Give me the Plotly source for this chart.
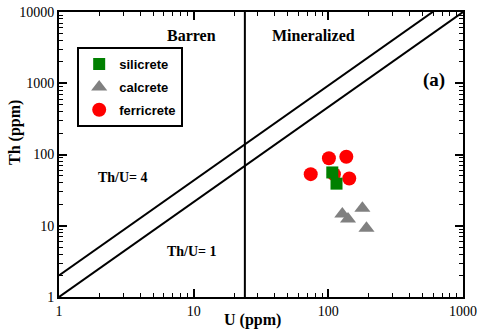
import plotly.graph_objects as go

# Data
sil_u = [107, 115]
sil_th = [56, 39]
cal_u = [127, 140, 179, 192]
cal_th = [14.6, 12.4, 17.6, 9.2]
fer_u = [101, 136, 74, 110, 143]
fer_th = [88.5, 93, 53, 53, 46]

line_u = [1, 1000]
lower_th = [1, 10000]
upper_th = [2, 20000]
boundary_u = [24, 24]
boundary_th = [1, 10000]

x_ticks = [1, 10, 100, 1000]
y_ticks = [1, 10, 100, 1000, 10000]
x_minor = [m * 10 ** d for d in range(3) for m in range(2, 10)]
y_minor = [m * 10 ** d for d in range(4) for m in range(2, 10)]

serif = "Liberation Serif, Times New Roman, serif"
sans = "Liberation Sans, Arial, sans-serif"

fig = go.Figure()
fig.add_trace(go.Scatter(x=line_u, y=upper_th, mode="lines", line=dict(color="black", width=2), showlegend=False, hoverinfo="skip"))
fig.add_trace(go.Scatter(x=line_u, y=lower_th, mode="lines", line=dict(color="black", width=2), showlegend=False, hoverinfo="skip"))
fig.add_trace(go.Scatter(x=boundary_u, y=boundary_th, mode="lines", line=dict(color="black", width=2), showlegend=False, hoverinfo="skip"))

fig.add_trace(go.Scatter(x=fer_u, y=fer_th, mode="markers", name="<b>ferricrete</b>", legendgroup="c",
                         marker=dict(symbol="circle", size=14, color="#ff0000"), legendrank=3))
fig.add_trace(go.Scatter(x=sil_u, y=sil_th, mode="markers", name="<b>silicrete</b>", legendgroup="a",
                         marker=dict(symbol="square", size=12, color="#008000"), legendrank=1))
fig.add_trace(go.Scatter(x=cal_u, y=cal_th, mode="markers", name="<b>calcrete</b>", legendgroup="b",
                         marker=dict(symbol="triangle-up", size=14, color="#808080"), legendrank=2))

axis_common = dict(
    type="log", showgrid=False, zeroline=False, automargin=False,
    showline=True, linecolor="black", linewidth=2, mirror="ticks",
    ticks="inside", ticklen=8, tickwidth=1.5, tickcolor="black",
    tickfont=dict(family=serif, size=14, color="black"),
    tickprefix="<b>", ticksuffix="</b>",
)

fig.update_xaxes(**axis_common, range=[0, 3], tickvals=x_ticks, ticktext=[str(v) for v in x_ticks],
                 minor=dict(tickvals=x_minor, ticks="inside", ticklen=4, tickwidth=1, tickcolor="black", showgrid=False))
fig.update_yaxes(**axis_common, range=[0, 4], tickvals=y_ticks, ticktext=[str(v) for v in y_ticks],
                 minor=dict(tickvals=y_minor, ticks="inside", ticklen=4, tickwidth=1, tickcolor="black", showgrid=False))

ann = [
    ("<b>Barren</b>", 0.328, 0.916, 16, 0),
    ("<b>Mineralized</b>", 0.630, 0.919, 16, 0),
    ("<b>(a)</b>", 0.928, 0.761, 19, 0),
    ("<b>Th/U= 4</b>", 0.158, 0.418, 14, 0),
    ("<b>Th/U= 1</b>", 0.330, 0.161, 14, 0),
    ("<b>U (ppm)</b>", 0.48, -0.081, 16, 0),
    ("<b>Th (ppm)</b>", -0.109, 0.579, 16, -90),
]
for text, x, y, s, rot in ann:
    fig.add_annotation(text=text, x=x, y=y, xref="paper", yref="paper", showarrow=False, textangle=rot,
                       font=dict(family=serif, size=s, color="black"), xanchor="center", yanchor="middle")

fig.update_layout(
    width=477, height=335,
    margin=dict(l=59, r=14, t=12, b=38),
    paper_bgcolor="white", plot_bgcolor="white",
    legend=dict(x=0.045, y=0.877, xanchor="left", yanchor="top",
                bordercolor="black", borderwidth=2, bgcolor="white",
                font=dict(family=sans, size=13, color="black"),
                traceorder="grouped", tracegroupgap=3),
)

fig.write_html("out.html", config={"displayModeBar": False},
               post_script="document.body.style.margin='0';document.body.style.overflow='hidden';")
